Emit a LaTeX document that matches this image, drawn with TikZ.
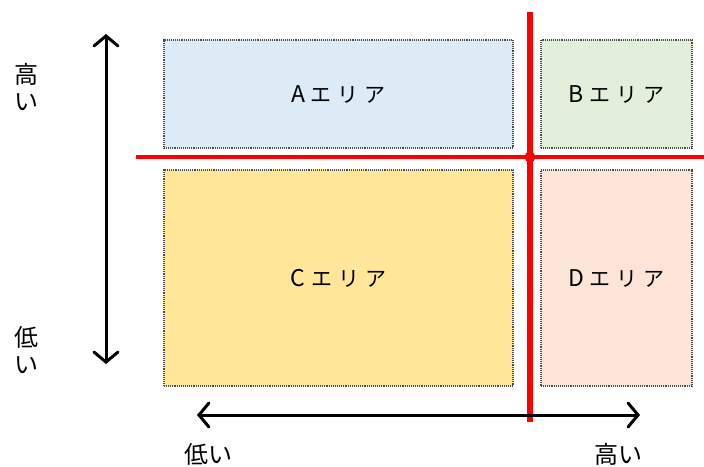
\documentclass[tikz,border=0pt]{standalone}
\usepackage{fontspec}
\setmainfont{Noto Sans CJK JP}
\usetikzlibrary{arrows.meta}
\definecolor{areaA}{HTML}{DDEBF7}
\definecolor{areaB}{HTML}{E2EFDA}
\definecolor{areaC}{HTML}{FFE699}
\definecolor{areaD}{HTML}{FCE4D6}
\definecolor{redline}{HTML}{FF0000}
\newcommand{\spc}{\hspace{6pt}}
\newcommand{\arealetter}[1]{{\fontsize{23pt}{22pt}\selectfont #1}}
\tikzset{
  area/.style={draw=black!70, line width=1.8pt, dash pattern=on 1pt off 0.9pt,
    inner sep=0pt, font=\fontsize{21pt}{24pt}\selectfont},
  axis/.style={line width=3pt, {Straight Barb[length=10pt,width=24pt,line cap=round]}-{Straight Barb[length=10pt,width=24pt,line cap=round]}},
  divider/.style={redline, line width=4.5pt},
  axlabel/.style={font=\fontsize{24pt}{27pt}\selectfont, inner sep=0pt, align=center},
}
\begin{document}
\begin{tikzpicture}[x=1pt,y=-1pt]
\useasboundingbox (0,0) rectangle (704,466);
% four areas
\node[area, fill=areaA, minimum width=349pt, minimum height=108pt] (A) at (338.5,94) {\arealetter{A}\spc エ\spc リ\spc ア};
\node[area, fill=areaB, minimum width=151pt, minimum height=108pt] (B) at (616.5,94) {\arealetter{B}\spc エ\spc リ\spc ア};
\node[area, fill=areaC, minimum width=349pt, minimum height=216pt] (C) at (338.5,278) {\arealetter{C}\spc エ\spc リ\spc ア};
\node[area, fill=areaD, minimum width=151pt, minimum height=216pt] (D) at (616.5,278) {\arealetter{D}\spc エ\spc リ\spc ア};
% red dividing lines
\coordinate (hl) at (136,157);
\coordinate (hr) at (704,157);
\coordinate (vt) at (530,12);
\coordinate (vb) at (530,422);
\coordinate (cross) at (530,157);
\draw[divider] (hl) -- (hr);
\draw[divider, line width=5.5pt] (vt) -- (vb);
\fill[redline] (cross) circle (5.5pt);
% axes
\coordinate (yt) at (106,34);
\coordinate (yb) at (106,364);
\coordinate (xl) at (197,415);
\coordinate (xr) at (640,415);
\draw[axis] (yb) -- (yt);
\draw[axis] (xl) -- (xr);
% axis labels
\node[axlabel] (yhigh) at (26,87) {高\\い};
\node[axlabel] (ylow) at (26,350) {低\\い};
\node[axlabel] (xlow) at (208,454) {低い};
\node[axlabel] (xhigh) at (618,454) {高い};
\end{tikzpicture}
\end{document}
